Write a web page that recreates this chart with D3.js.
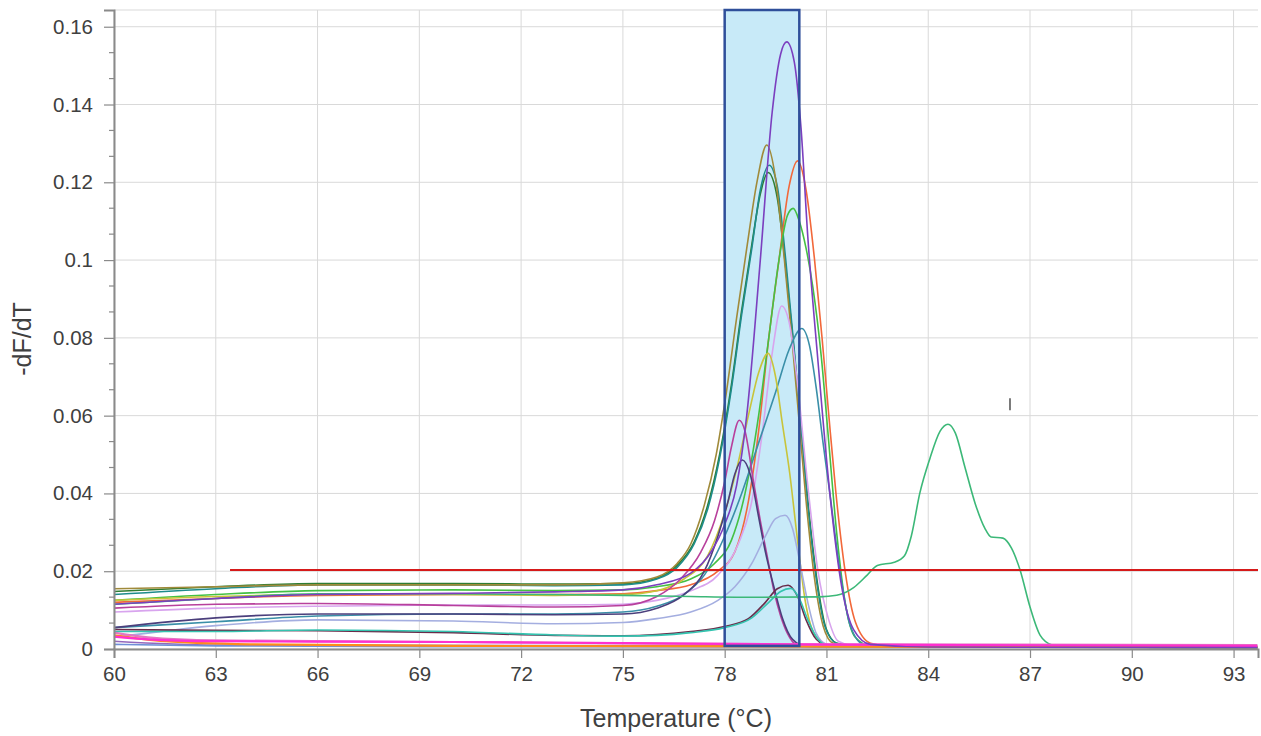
<!DOCTYPE html>
<html>
<head>
<meta charset="utf-8">
<script src="https://cdn.jsdelivr.net/npm/d3@7"></script>
<style>
  html, body { margin: 0; padding: 0; background: #ffffff; }
  svg { display: block; font-family: "Liberation Sans", Arial, sans-serif; }
</style>
</head>
<body>
<svg id="chart" width="1261" height="736"></svg>
<script>
// ---------------- DATA ----------------
const xTicks = [60, 63, 66, 69, 72, 75, 78, 81, 84, 87, 90, 93];
const yTicks = [0, 0.02, 0.04, 0.06, 0.08, 0.1, 0.12, 0.14, 0.16];
const xLabel = "Temperature (°C)";
const yLabel = "-dF/dT";

const thresholdValue = 0.0203;
const thresholdStart = 63.42;
const regionTemps = [78.0, 80.2];
const regionValues = [0.0008, 0.1643];
const cursorMark = [86.41, 0.0614, 0.0645];

const purpleTall = [[60,0.0115],[63,0.013],[66,0.014],[70,0.0143],[73,0.0147],[75,0.0152],[76,0.0165],[77,0.0195],[77.6,0.025],[78.0,0.032],[78.35,0.042],[78.65,0.06],[79.05,0.1],[79.4,0.138],[79.65,0.153],[79.83,0.1561],[80.05,0.151],[80.25,0.134],[80.45,0.106],[80.75,0.074],[81.1,0.04],[81.45,0.016],[81.8,0.005],[82.3,0.0012],[84,0.0005],[93.7,0.0004]];
const oliveBrown = [[60,0.0155],[63,0.016],[66,0.0165],[70,0.0165],[73,0.0165],[75,0.017],[76,0.0185],[76.6,0.022],[77.0,0.027],[77.4,0.037],[77.75,0.05],[78.05,0.066],[78.35,0.085],[78.65,0.103],[78.95,0.12],[79.24,0.1296],[79.5,0.121],[79.75,0.101],[80.0,0.078],[80.2,0.058],[80.4,0.038],[80.65,0.018],[80.9,0.006],[81.2,0.0015],[82,0.0006],[93.7,0.0004]];
const tealPeak = [[60,0.014],[63,0.0155],[66,0.0165],[70,0.0165],[73,0.0163],[75,0.0165],[76,0.018],[76.6,0.021],[77.1,0.027],[77.5,0.036],[77.85,0.049],[78.2,0.067],[78.5,0.086],[78.8,0.103],[79.05,0.118],[79.31,0.1244],[79.55,0.119],[79.8,0.1],[80.05,0.077],[80.25,0.057],[80.45,0.037],[80.7,0.018],[80.95,0.006],[81.3,0.0015],[82,0.0006],[93.7,0.0004]];
const darkGreenPeak = [[60,0.0148],[63,0.016],[66,0.0168],[70,0.0168],[73,0.0167],[75,0.0168],[76,0.0182],[76.6,0.0215],[77.1,0.0275],[77.5,0.037],[77.85,0.05],[78.2,0.068],[78.5,0.087],[78.8,0.104],[79.05,0.117],[79.28,0.1225],[79.55,0.116],[79.8,0.098],[80.05,0.076],[80.3,0.053],[80.5,0.034],[80.75,0.016],[81.0,0.005],[81.3,0.0015],[82,0.0006],[93.7,0.0004]];
const orangePeak = [[60,0.012],[63,0.013],[66,0.0138],[70,0.014],[73,0.014],[75,0.0142],[76,0.015],[77,0.0165],[77.8,0.02],[78.3,0.025],[78.7,0.038],[79.0,0.056],[79.3,0.08],[79.6,0.1],[79.9,0.119],[80.15,0.1255],[80.4,0.118],[80.65,0.1],[80.87,0.08],[81.07,0.06],[81.28,0.04],[81.55,0.02],[81.85,0.007],[82.3,0.0015],[83,0.0006],[93.7,0.0004]];
const greenPeak = [[60,0.0125],[63,0.014],[66,0.015],[70,0.0152],[73,0.015],[75,0.0152],[76,0.016],[77,0.018],[77.7,0.022],[78.2,0.028],[78.6,0.04],[79.0,0.06],[79.3,0.08],[79.6,0.1],[79.85,0.1115],[80.02,0.1133],[80.2,0.11],[80.4,0.103],[80.6,0.093],[80.85,0.075],[81.05,0.055],[81.3,0.03],[81.55,0.012],[81.85,0.003],[82.3,0.0008],[93.7,0.0004]];
const lavenderPeak = [[60,0.0095],[63,0.0105],[66,0.011],[70,0.0113],[73,0.0113],[75,0.0115],[76,0.0125],[77,0.015],[77.8,0.019],[78.4,0.027],[78.8,0.038],[79.1,0.055],[79.4,0.076],[79.68,0.0882],[79.9,0.084],[80.15,0.068],[80.45,0.042],[80.75,0.02],[81.05,0.008],[81.35,0.002],[82,0.0006],[93.7,0.0004]];
const tealBluePeak = [[60,0.0055],[63,0.007],[66,0.0085],[70,0.009],[73,0.009],[75,0.0095],[76,0.011],[76.8,0.014],[77.4,0.019],[78.0,0.029],[78.5,0.04],[79.0,0.053],[79.5,0.066],[79.9,0.077],[80.27,0.0824],[80.5,0.078],[80.7,0.067],[80.9,0.053],[81.1,0.04],[81.4,0.02],[81.7,0.006],[82.1,0.0012],[83,0.0005],[93.7,0.0004]];
const yellowPeak = [[60,0.0125],[63,0.0135],[66,0.014],[70,0.014],[73,0.0138],[75,0.014],[76,0.015],[76.8,0.018],[77.5,0.024],[78.0,0.035],[78.4,0.048],[78.75,0.062],[79.0,0.071],[79.28,0.076],[79.5,0.07],[79.7,0.058],[79.92,0.045],[80.12,0.03],[80.37,0.0126],[80.7,0.003],[81.1,0.0008],[93.7,0.0004]];
const magentaPeak = [[60,0.0105],[63,0.0115],[66,0.0117],[70,0.0112],[73,0.0108],[75,0.0112],[76,0.0135],[76.7,0.018],[77.3,0.025],[77.7,0.033],[78.0,0.043],[78.2,0.052],[78.43,0.0588],[78.6,0.056],[78.85,0.043],[79.05,0.033],[79.25,0.024],[79.45,0.015],[79.65,0.0085],[79.85,0.004],[80.1,0.0012],[80.6,0.0005],[93.7,0.0004]];
const darkPurplePeak = [[60,0.0055],[63,0.008],[66,0.009],[70,0.009],[73,0.0088],[75,0.009],[76,0.0105],[76.8,0.014],[77.4,0.02],[77.8,0.029],[78.1,0.038],[78.3,0.045],[78.52,0.0486],[78.75,0.045],[79.0,0.034],[79.2,0.025],[79.45,0.016],[79.7,0.008],[80.0,0.0025],[80.4,0.0007],[93.7,0.0004]];
const periwinklePeak = [[60,0.003],[63,0.006],[66,0.0075],[70,0.0072],[73,0.0065],[75,0.0068],[76,0.0078],[77,0.0095],[77.8,0.0125],[78.3,0.016],[78.8,0.022],[79.2,0.029],[79.5,0.0335],[79.78,0.0344],[80.0,0.031],[80.2,0.023],[80.45,0.012],[80.7,0.004],[81.0,0.0012],[81.5,0.0005],[93.7,0.0004]];
const darkSmallPeak = [[60,0.005],[63,0.0048],[66,0.0047],[70,0.0042],[73,0.0035],[75,0.0034],[76,0.0037],[77,0.0045],[78,0.0058],[78.7,0.0078],[79.2,0.012],[79.55,0.0155],[79.87,0.0164],[80.15,0.0135],[80.4,0.0075],[80.7,0.0025],[81.1,0.0007],[93.7,0.0004]];
const cyanSmallPeak = [[60,0.0045],[63,0.0045],[66,0.0049],[70,0.0045],[73,0.0036],[75,0.0033],[76,0.0035],[77,0.0042],[78,0.0055],[78.8,0.008],[79.3,0.012],[79.65,0.0148],[79.95,0.0156],[80.2,0.013],[80.45,0.0075],[80.75,0.0025],[81.1,0.0007],[93.7,0.0004]];
const greenLate = [[60,0.0115],[63,0.013],[66,0.0142],[70,0.0142],[73,0.014],[75,0.0138],[77,0.0135],[79,0.0133],[80.8,0.0134],[81.3,0.0138],[81.8,0.0158],[82.2,0.019],[82.5,0.0215],[83.0,0.0223],[83.3,0.024],[83.5,0.029],[83.75,0.04],[84.05,0.049],[84.35,0.056],[84.58,0.0578],[84.8,0.0555],[85.08,0.0468],[85.38,0.0375],[85.67,0.031],[85.85,0.0288],[86.2,0.0285],[86.45,0.026],[86.7,0.0205],[87.0,0.0108],[87.3,0.0035],[87.65,0.001],[88,0.0005],[93.7,0.0004]];
const flatMagenta = [[60,0.0032],[61,0.0025],[63,0.002],[66,0.0019],[70,0.0018],[75,0.0015],[80,0.0012],[85,0.001],[93.7,0.0008]];
const flatPink = [[60,0.0042],[61,0.003],[63,0.0022],[70,0.0018],[80,0.0012],[93.7,0.001]];
const flatOrange = [[60,0.0035],[61.5,0.002],[64,0.0012],[70,0.0008],[93.7,0.0005]];
const flatBlue = [[60,0.0012],[63,0.0008],[70,0.0006],[93.7,0.0004]];
const flatViolet = [[60,0.002],[63,0.001],[80,0.0008],[93.7,0.0009]];

const seriesColors = ["#2e7d32","#1e8c8c","#a08a3a","#f2683a","#44c044","#d8a4ee","#3a8fa8","#c8c43a","#b8409c","#4b3f7c","#a4aee0","#6a2c4a","#34c4b0","#3cb878","#9467bd","#6f8fd8","#ff8c1a","#e377c2","#ff2fcf","#7b3fbf"];
const seriesData  = [darkGreenPeak, tealPeak, oliveBrown, orangePeak, greenPeak, lavenderPeak, tealBluePeak, yellowPeak, magentaPeak, darkPurplePeak, periwinklePeak, darkSmallPeak, cyanSmallPeak, greenLate, flatViolet, flatBlue, flatOrange, flatPink, flatMagenta, purpleTall];

// ---------------- LAYOUT ----------------
const svg = d3.select("#chart");
const x = d3.scaleLinear().domain([60, 93.72]).range([114, 1258]);
const y = d3.scaleLinear().domain([0, 0.1643]).range([649, 10]);
const textColor = "#404040";
const fontFamily = "'Liberation Sans', Arial, sans-serif";

// grid
const grid = svg.append("g");
grid.selectAll("line.v").data(xTicks).enter().append("line")
  .attr("x1", d => x(d)).attr("x2", d => x(d))
  .attr("y1", y.range()[1]).attr("y2", y.range()[0])
  .attr("stroke", "#d9d9d9").attr("stroke-width", 1);
grid.selectAll("line.h").data(yTicks.concat([y.domain()[1]])).enter().append("line")
  .attr("x1", x.range()[0]).attr("x2", x.range()[1])
  .attr("y1", d => y(d)).attr("y2", d => y(d))
  .attr("stroke", "#d9d9d9").attr("stroke-width", 1);

// highlighted region fill
svg.append("rect")
  .attr("x", x(regionTemps[0])).attr("y", y(regionValues[1]))
  .attr("width", x(regionTemps[1]) - x(regionTemps[0]))
  .attr("height", y(regionValues[0]) - y(regionValues[1]))
  .attr("fill", "#c8eaf8");

// curves
const line = d3.line().x(d => x(d[0])).y(d => y(d[1])).curve(d3.curveMonotoneX);
svg.append("g").selectAll("path").data(seriesData).enter().append("path")
  .attr("d", line)
  .attr("fill", "none")
  .attr("stroke", (d, i) => seriesColors[i])
  .attr("stroke-width", (d, i) => (i >= 16 && i <= 18) ? 2.2 : 1.6)
  .attr("stroke-linejoin", "round");

// threshold line
svg.append("line")
  .attr("x1", x(thresholdStart)).attr("x2", x.range()[1])
  .attr("y1", y(thresholdValue)).attr("y2", y(thresholdValue))
  .attr("stroke", "#d61a1a").attr("stroke-width", 2);

// region outline
svg.append("rect")
  .attr("x", x(regionTemps[0])).attr("y", y(regionValues[1]))
  .attr("width", x(regionTemps[1]) - x(regionTemps[0]))
  .attr("height", y(regionValues[0]) - y(regionValues[1]))
  .attr("fill", "none").attr("stroke", "#2f4f9a").attr("stroke-width", 2.5);

// axes
const axisColor = "#8a8a8a";
const xAxis = d3.axisBottom(x).tickValues(xTicks).tickSize(9).tickPadding(8).tickFormat(d3.format("d"));
const gx = svg.append("g").attr("transform", `translate(0,${y.range()[0]})`).call(xAxis);
gx.select(".domain").attr("stroke", axisColor).attr("stroke-width", 2);
gx.selectAll(".tick line").attr("stroke", axisColor).attr("stroke-width", 1.2);
gx.selectAll(".tick text").attr("fill", textColor).style("font-size", "20.5px").style("font-family", fontFamily);

const yFmt = d => d === 0 ? "0" : String(+d.toFixed(2));
const yAxis = d3.axisLeft(y).tickValues(yTicks).tickSize(10).tickPadding(11).tickFormat(yFmt);
const gy = svg.append("g").attr("transform", `translate(${x.range()[0]},0)`).call(yAxis);
gy.select(".domain").attr("stroke", axisColor).attr("stroke-width", 2);
gy.selectAll(".tick line").attr("stroke", axisColor).attr("stroke-width", 1.2);
gy.selectAll(".tick text").attr("fill", textColor).style("font-size", "20.5px").style("font-family", fontFamily);

const minorY = d3.range(0, 25).map(k => k * 0.02 / 3).filter((v, k) => k % 3 !== 0 && v <= y.domain()[1]);
svg.append("g").selectAll("line").data(minorY).enter().append("line")
  .attr("x1", x.range()[0] - 5).attr("x2", x.range()[0])
  .attr("y1", d => y(d)).attr("y2", d => y(d))
  .attr("stroke", axisColor).attr("stroke-width", 1.2);

// axis titles
svg.append("text")
  .attr("x", 676).attr("y", 727)
  .attr("text-anchor", "middle").attr("fill", textColor)
  .style("font-size", "25px").style("font-family", fontFamily).text(xLabel);
svg.append("text")
  .attr("transform", `translate(31,339) rotate(-90)`)
  .attr("text-anchor", "middle").attr("fill", textColor)
  .style("font-size", "25px").style("font-family", fontFamily).text(yLabel);

// cursor artifact
svg.append("line")
  .attr("x1", x(cursorMark[0])).attr("x2", x(cursorMark[0]))
  .attr("y1", y(cursorMark[1])).attr("y2", y(cursorMark[2]))
  .attr("stroke", "#222").attr("stroke-width", 1.2);
</script>
</body>
</html>
